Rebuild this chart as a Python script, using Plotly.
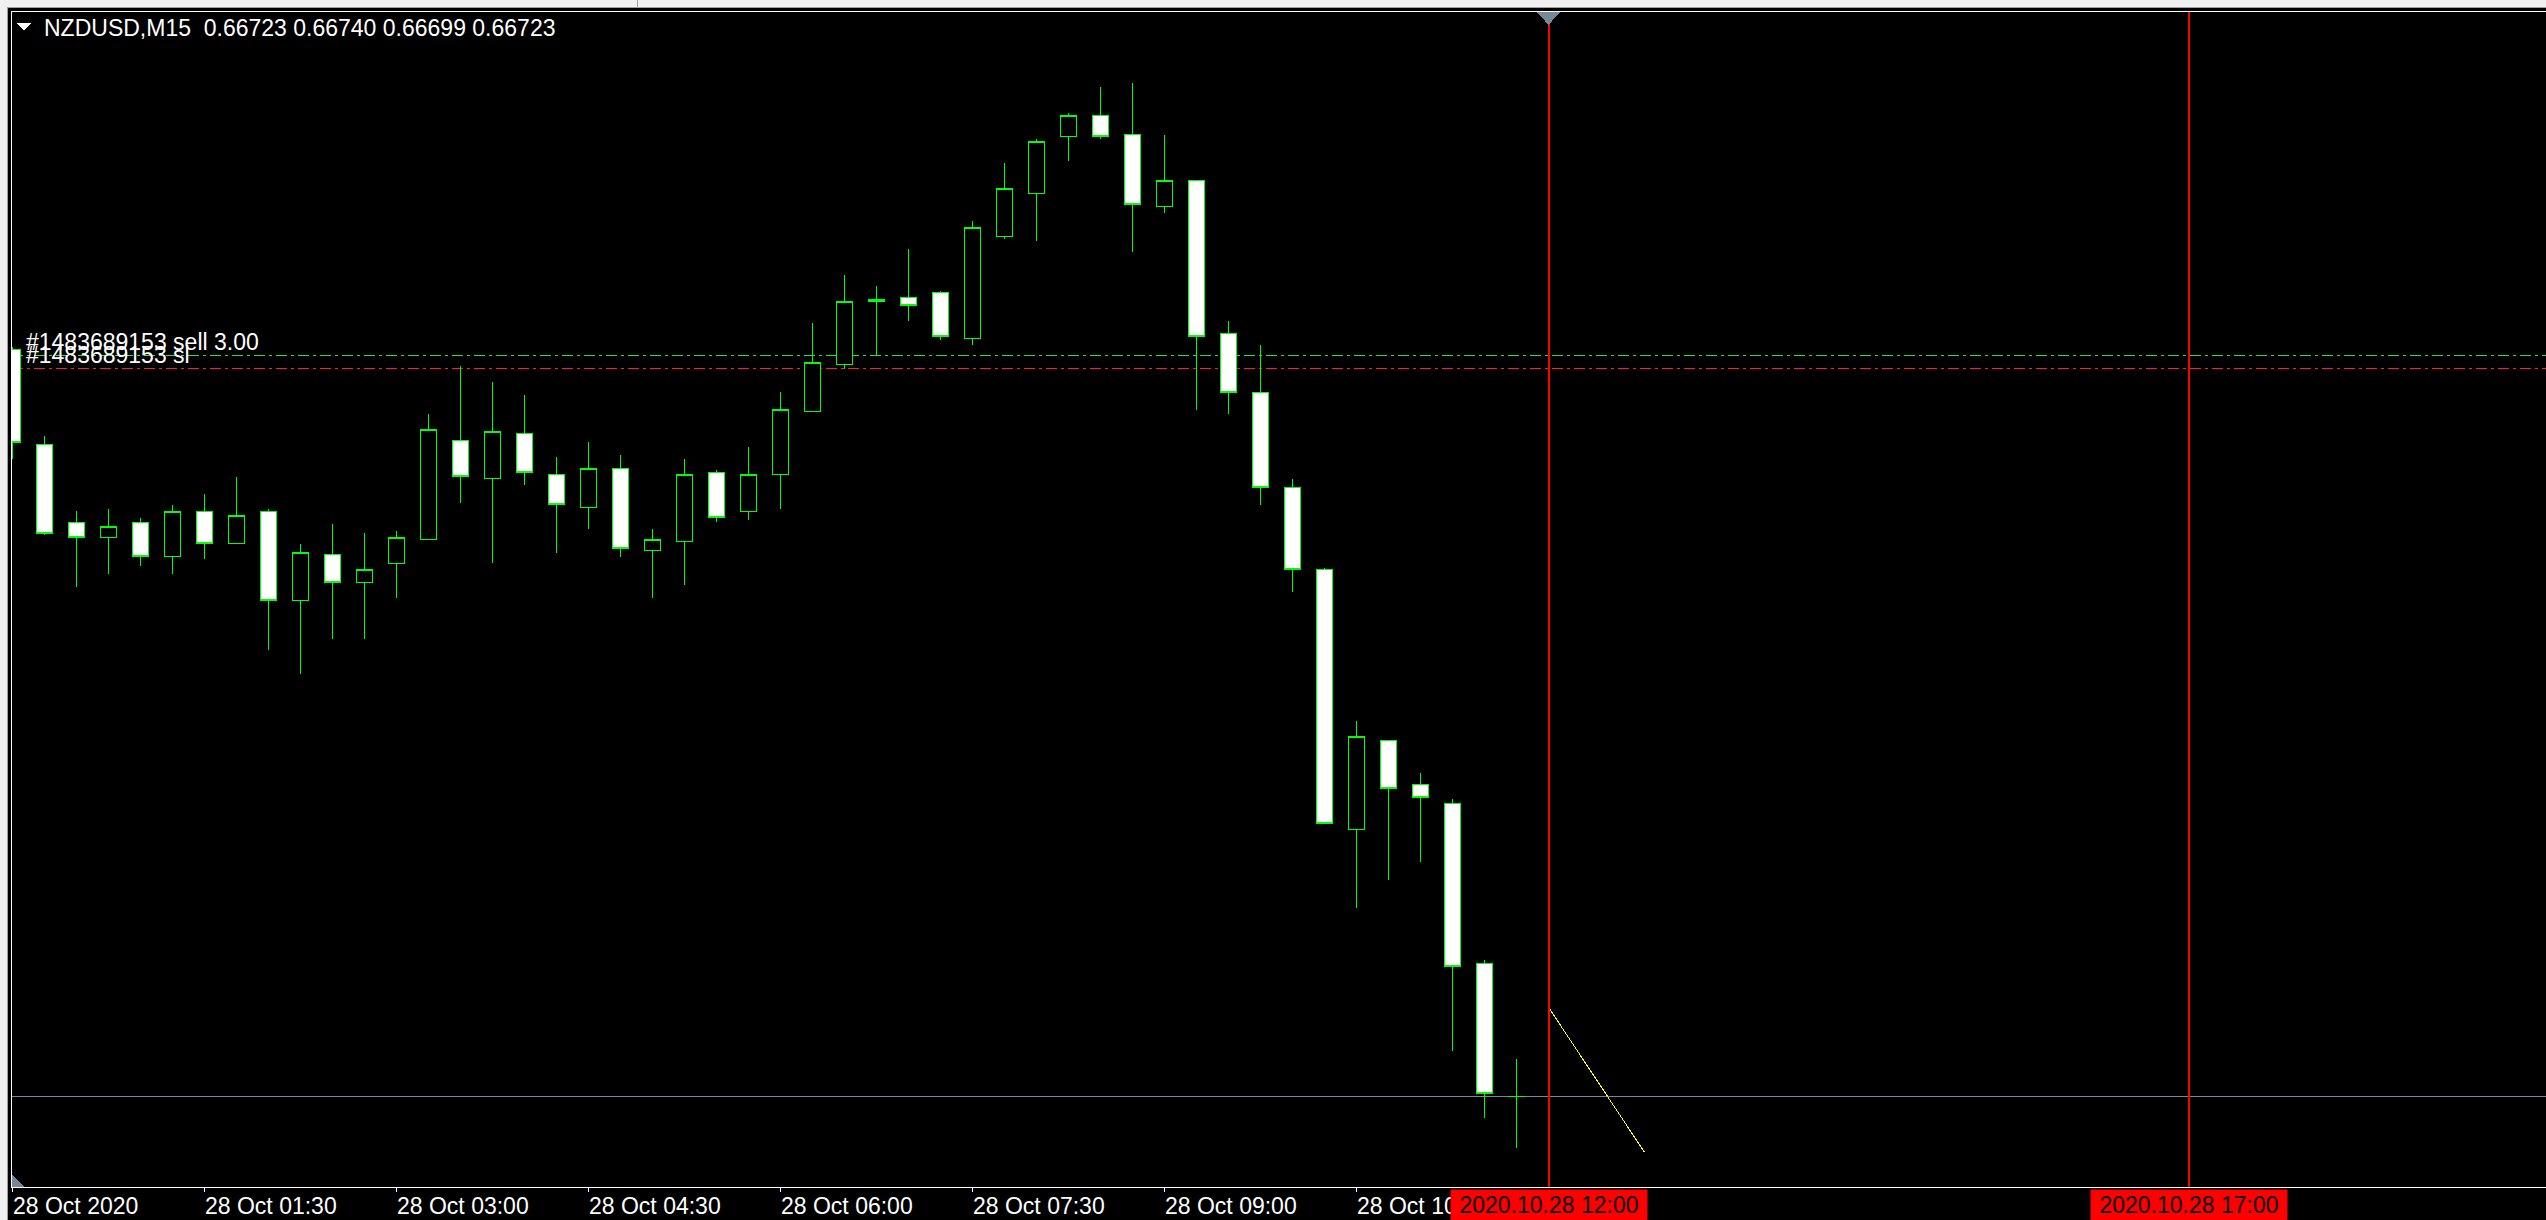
import plotly.graph_objects as go

# ---------------- data ----------------
symbol = "NZDUSD,M15"
bar_times = ["00:00", "00:15", "00:30", "00:45", "01:00", "01:15", "01:30", "01:45",
             "02:00", "02:15", "02:30", "02:45", "03:00", "03:15", "03:30", "03:45",
             "04:00", "04:15", "04:30", "04:45", "05:00", "05:15", "05:30", "05:45",
             "06:00", "06:15", "06:30", "06:45", "07:00", "07:15", "07:30", "07:45",
             "08:00", "08:15", "08:30", "08:45", "09:00", "09:15", "09:30", "09:45",
             "10:00", "10:15", "10:30", "10:45", "11:00", "11:15", "11:30", "11:45"]
opens = [0.67068, 0.67024, 0.66988, 0.66981, 0.66988, 0.66972, 0.66993, 0.66978,
         0.66993, 0.66952, 0.66973, 0.66960, 0.66969, 0.66980, 0.67026, 0.67008,
         0.67029, 0.67010, 0.66995, 0.67013, 0.66975, 0.66979, 0.67011, 0.66993,
         0.67010, 0.67039, 0.67061, 0.67090, 0.67092, 0.67094, 0.67073, 0.67120,
         0.67140, 0.67166, 0.67176, 0.67167, 0.67134, 0.67146, 0.67075, 0.67048,
         0.67004, 0.66966, 0.66846, 0.66887, 0.66867, 0.66858, 0.66784, 0.66723]
highs = [0.67069, 0.67028, 0.66993, 0.66994, 0.66990, 0.66996, 0.67001, 0.67009,
         0.66994, 0.66978, 0.66987, 0.66983, 0.66984, 0.67038, 0.67060, 0.67053,
         0.67047, 0.67018, 0.67025, 0.67019, 0.66985, 0.67017, 0.67012, 0.67023,
         0.67048, 0.67080, 0.67102, 0.67097, 0.67114, 0.67095, 0.67127, 0.67154,
         0.67165, 0.67177, 0.67189, 0.67191, 0.67167, 0.67146, 0.67081, 0.67070,
         0.67008, 0.66967, 0.66896, 0.66887, 0.66872, 0.66860, 0.66786, 0.66740]
lows = [0.67017, 0.66982, 0.66958, 0.66964, 0.66968, 0.66964, 0.66971, 0.66978,
        0.66929, 0.66918, 0.66934, 0.66934, 0.66953, 0.66980, 0.66997, 0.66969,
        0.67005, 0.66974, 0.66985, 0.66972, 0.66953, 0.66959, 0.66988, 0.66989,
        0.66994, 0.67039, 0.67059, 0.67065, 0.67081, 0.67072, 0.67070, 0.67119,
        0.67118, 0.67155, 0.67165, 0.67113, 0.67131, 0.67040, 0.67038, 0.66996,
        0.66956, 0.66849, 0.66810, 0.66823, 0.66831, 0.66744, 0.66713, 0.66699]
closes = [0.67025, 0.66983, 0.66981, 0.66986, 0.66972, 0.66993, 0.66978, 0.66991,
          0.66952, 0.66974, 0.66960, 0.66966, 0.66981, 0.67031, 0.67009, 0.67030,
          0.67011, 0.66996, 0.67013, 0.66976, 0.66980, 0.67010, 0.66990, 0.67010,
          0.67040, 0.67062, 0.67090, 0.67091, 0.67088, 0.67074, 0.67124, 0.67142,
          0.67164, 0.67176, 0.67166, 0.67135, 0.67146, 0.67074, 0.67048, 0.67004,
          0.66966, 0.66849, 0.66889, 0.66865, 0.66861, 0.66783, 0.66724, 0.66723]

tick_times = ["00:00", "01:30", "03:00", "04:30", "06:00", "07:30", "09:00", "10:30"]
tick_labels = ["28 Oct 2020", "28 Oct 01:30", "28 Oct 03:00", "28 Oct 04:30",
               "28 Oct 06:00", "28 Oct 07:30", "28 Oct 09:00", "28 Oct 10:30"]

vline_times = ["12:00", "17:00"]
vline_labels = ["2020.10.28 12:00", "2020.10.28 17:00"]

trend_times = ["12:00", "12:45"]
trend_prices = [0.66764, 0.66697]

order_label = "#1483689153 sell 3.00"
order_price = 0.67065
sl_label = "#1483689153 sl"
sl_price = 0.67059

# ---------------- geometry ----------------
W, H = 2546, 1220
ML, MT, MB = 12, 12, 33
PW = W - ML
PH = H - MT - MB
x_range = [-0.015625, -0.015625 + PW / 32.0]
y_range = [0.6668097, 0.6722369]
FONT = "Liberation Sans, Arial, sans-serif"
FS = 23


def px(x):
    return (x - ML) / PW


def py(y):
    return (H - MB - y) / PH


def slot(t):
    h, m = t.split(":")
    return (int(h) * 60 + int(m)) / 15


xs = [slot(t) for t in bar_times]

fig = go.Figure()
fig.add_trace(go.Candlestick(
    x=xs, open=opens, high=highs, low=lows, close=closes,
    increasing=dict(line=dict(color="#00ff00", width=1), fillcolor="#000000"),
    decreasing=dict(line=dict(color="#00ff00", width=1), fillcolor="#ffffff"),
    whiskerwidth=0, showlegend=False, hoverinfo="skip"))
fig.add_trace(go.Scatter(
    x=[slot(t) for t in trend_times], y=trend_prices, mode="lines",
    line=dict(color="#ffff00", width=1), showlegend=False, hoverinfo="skip"))

shapes = []
shapes.append(dict(type="line", xref="paper", yref="y", x0=0, x1=1,
                   y0=closes[-1], y1=closes[-1],
                   line=dict(color="#778899", width=1), layer="below"))
shapes.append(dict(type="line", xref="paper", yref="y", x0=0, x1=1,
                   y0=order_price, y1=order_price,
                   line=dict(color="#33dd33", width=1, dash="11px,4px,3px,4px"), layer="below"))
shapes.append(dict(type="line", xref="paper", yref="y", x0=0, x1=1,
                   y0=sl_price, y1=sl_price,
                   line=dict(color="#ff2020", width=1, dash="11px,4px,3px,4px"), layer="below"))
for t in vline_times:
    shapes.append(dict(type="line", xref="x", yref="paper", x0=slot(t), x1=slot(t),
                       y0=0, y1=1, line=dict(color="#ff0000", width=2)))
# window chrome
shapes.append(dict(type="rect", xref="paper", yref="paper", x0=px(0), x1=px(W),
                   y0=py(7), y1=py(0), fillcolor="#f0f0f0", line=dict(width=0)))
shapes.append(dict(type="rect", xref="paper", yref="paper", x0=px(0), x1=px(7),
                   y0=py(H), y1=py(0), fillcolor="#f0f0f0", line=dict(width=0)))
shapes.append(dict(type="line", xref="paper", yref="paper", x0=px(7), x1=px(W),
                   y0=py(7.5), y1=py(7.5), line=dict(color="#a0a0a0", width=1)))
shapes.append(dict(type="line", xref="paper", yref="paper", x0=px(7.5), x1=px(7.5),
                   y0=py(H), y1=py(7.5), line=dict(color="#a0a0a0", width=1)))
shapes.append(dict(type="line", xref="paper", yref="paper", x0=px(637.5), x1=px(637.5),
                   y0=py(7), y1=py(0), line=dict(color="#a0a0a0", width=1)))


def tri(points, color):
    p = "M " + " L ".join(f"{px(a)},{py(b)}" for a, b in points) + " Z"
    return dict(type="path", xref="paper", yref="paper", path=p,
                fillcolor=color, line=dict(width=0))


shapes.append(tri([(12, 1175), (12, 1187), (25, 1187)], "#778899"))
shapes.append(tri([(1537, 12), (1560, 12), (1548.5, 25)], "#778899"))
shapes.append(tri([(17, 23), (31, 23), (24, 31)], "#ffffff"))

annotations = []
annotations.append(dict(
    xref="paper", yref="paper", x=px(42), y=py(28), xanchor="left", yanchor="middle",
    showarrow=False, font=dict(family=FONT, size=FS, color="#ffffff"),
    text=f"{symbol}  {opens[-1]:.5f} {highs[-1]:.5f} {lows[-1]:.5f} {closes[-1]:.5f}"))
annotations.append(dict(
    xref="paper", yref="y", x=px(25), y=order_price, xanchor="left", yanchor="bottom",
    showarrow=False, font=dict(family=FONT, size=FS, color="#ffffff"), text=order_label,
    borderpad=0))
annotations.append(dict(
    xref="paper", yref="y", x=px(25), y=sl_price, xanchor="left", yanchor="bottom",
    showarrow=False, font=dict(family=FONT, size=FS, color="#ffffff"), text=sl_label,
    borderpad=0))
for t, lab in zip(tick_times, tick_labels):
    annotations.append(dict(
        xref="x", yref="paper", x=slot(t), y=py(1206), xanchor="left", yanchor="middle",
        showarrow=False, font=dict(family=FONT, size=FS, color="#ffffff"), text=lab,
        xshift=-2))
for t, lab in zip(vline_times, vline_labels):
    annotations.append(dict(
        xref="x", yref="paper", x=slot(t), y=py(1205), xanchor="center", yanchor="middle",
        showarrow=False, font=dict(family=FONT, size=FS, color="#000000"), text=lab,
        bgcolor="#ff0000", width=196, height=30, borderpad=0))

fig.update_layout(
    width=W, height=H, autosize=False,
    margin=dict(l=ML, r=0, t=MT, b=MB, pad=0),
    paper_bgcolor="#000000", plot_bgcolor="#000000",
    boxgap=0.25,
    shapes=shapes, annotations=annotations,
    showlegend=False,
    xaxis=dict(range=x_range, showgrid=False, zeroline=False, showline=True,
               linecolor="#ffffff", linewidth=1, mirror=True,
               ticks="outside", tickvals=[slot(t) for t in tick_times], ticklen=4,
               tickcolor="#ffffff", tickwidth=1, showticklabels=False,
               rangeslider=dict(visible=False), fixedrange=True),
    yaxis=dict(range=y_range, showgrid=False, zeroline=False, showline=True,
               linecolor="#ffffff", linewidth=1, showticklabels=False, ticks="",
               fixedrange=True),
)

post = (
    "document.body.style.margin='0';document.body.style.overflow='hidden';"
    "var s=document.createElement('style');"
    "s.innerHTML='.js-plotly-plot .plotly path{shape-rendering:crispEdges !important;}';"
    "document.head.appendChild(s);"
)
fig.write_html("out.html", config=dict(displayModeBar=False), post_script=post)
